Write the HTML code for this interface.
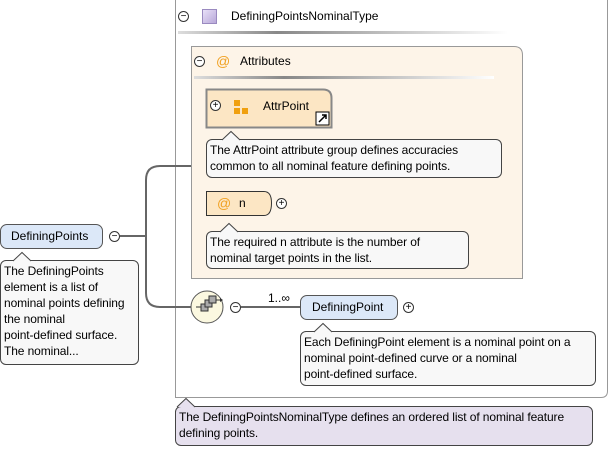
<!DOCTYPE html>
<html><head><meta charset="utf-8"><style>
body{margin:0;width:613px;height:451px;background:#fff;position:relative;overflow:hidden;font-family:"Liberation Sans",Arial,sans-serif;font-size:12px;color:#000}
div{position:absolute;box-sizing:border-box}
.tip{background:#f8f8f8;border:1px solid #444;border-radius:6px;padding:2px 3px;line-height:16px;white-space:nowrap;letter-spacing:-0.1px}
.pm{width:11px;height:11px;border:1px solid #333;border-radius:50%;font-size:10px;line-height:9px;text-align:center;background:#fff}
</style></head><body>
<svg width="613" height="451" style="position:absolute;left:0;top:0">
<defs><linearGradient id="g" x1="0" x2="1"><stop offset="0" stop-color="#ddd"/><stop offset="0.3" stop-color="#888"/><stop offset="1" stop-color="#fff"/></linearGradient></defs>
<path d="M175.5 -2 V397.5 H601 Q607.5 397.5 607.5 391 V-2" fill="none" stroke="#999" stroke-width="1"/>
<rect x="178" y="31" width="330" height="3" fill="url(#g)"/>
<path d="M191.5 46.5 H514 Q522.5 46.5 522.5 55 V278.5 H191.5 Z" fill="#fdf4e8" stroke="#999"/>
<rect x="194" y="76" width="300" height="3" fill="url(#g)"/>
<g stroke="#666" stroke-width="2" fill="none">
<path d="M120 236 H146"/>
<path d="M191 166 H160 Q146 166 146 180 V293 Q146 307 160 307 H191"/>
<path d="M241 307 H300"/>
</g>
<circle cx="207" cy="307" r="16" fill="#fbf8e0" stroke="#555"/>
<g fill="#aaa" stroke="#333" stroke-width="1"><rect x="201" y="304" width="7" height="7"/><rect x="205" y="300" width="7" height="7"/><rect x="209" y="296" width="7" height="7"/></g>
<path d="M196 307 H201 M216 300 H220" stroke="#333"/><path d="M220 298 l3 2 l-3 2z" fill="#333"/>
<path d="M206.5 89.5 H323 Q331.5 89.5 331.5 98 V127.5 H206.5 Z" fill="#fce6c4" stroke="#888" stroke-width="2"/>
<rect x="316" y="112" width="13" height="13" fill="#fff" stroke="#000"/>
<path d="M319 122 L326 115 M322 115 H326 V119" stroke="#000" stroke-width="1.5" fill="none"/>
<path d="M206.5 191.5 H264 Q271.5 191.5 271.5 203 Q271.5 215.5 264 215.5 H206.5 Z" fill="#fce6c4" stroke="#333"/>
</svg>
<div class="pm" style="left:178px;top:11px">−</div>
<div style="left:202px;top:9px;width:15px;height:15px;background:linear-gradient(135deg,#e8e0f8,#b8a8d8);border:1px solid #9a8ac0"></div>
<div style="left:231px;top:9px">DefiningPointsNominalType</div>
<div class="pm" style="left:194px;top:56px">−</div>
<div style="left:216px;top:53px;color:#f0a020;font-size:14px">@</div>
<div style="left:240px;top:54px">Attributes</div>
<div class="pm" style="left:210px;top:100px">+</div>
<div style="left:234px;top:100px;width:6px;height:6px;background:#f0a010"></div>
<div style="left:234px;top:108px;width:6px;height:6px;background:#f0a010"></div>
<div style="left:242px;top:108px;width:6px;height:6px;background:#f0a010"></div>
<div style="left:263px;top:99px">AttrPoint</div>
<div class="tip" style="left:206px;top:139px;width:296px;height:39px">The AttrPoint attribute group defines accuracies<br>common to all nominal feature defining points.</div>
<div style="left:217px;top:195px;color:#f0a020;font-size:14px">@</div>
<div style="left:239px;top:196px">n</div>
<div class="pm" style="left:276px;top:198px">+</div>
<div class="tip" style="left:206px;top:231px;width:263px;height:38px">The required n attribute is the number of<br>nominal target points in the list.</div>
<div style="left:0;top:224px;width:103px;height:25px;background:#dce8f8;border:1px solid #555;border-radius:7px;padding:4px 0 0 10px">DefiningPoints</div>
<div class="pm" style="left:109px;top:231px">−</div>
<div class="tip" style="left:0;top:260px;width:139px;height:105px">The DefiningPoints<br>element is a list of<br>nominal points defining<br>the nominal<br>point-defined surface.<br>The nominal...</div>
<div class="pm" style="left:230px;top:302px">−</div>
<div style="left:268px;top:291px">1..∞</div>
<div style="left:300px;top:295px;width:98px;height:25px;background:#dce8f8;border:1px solid #555;border-radius:7px;padding:4px 0 0 11px">DefiningPoint</div>
<div class="pm" style="left:403px;top:302px">+</div>
<div class="tip" style="left:300px;top:331px;width:296px;height:55px">Each DefiningPoint element is a nominal point on a<br>nominal point-defined curve or a nominal<br>point-defined surface.</div>
<div class="tip" style="left:175px;top:406px;width:418px;height:40px;background:#e6e0ee">The DefiningPointsNominalType defines an ordered list of nominal feature<br>defining points.</div>
<svg width="613" height="451" style="position:absolute;left:0;top:0">
<g stroke="#444" stroke-width="1">
<path d="M222 140 L231 131.5 L240 140" fill="#f8f8f8"/>
<path d="M220 232 L229 223.5 L238 232" fill="#f8f8f8"/>
<path d="M13 261 L22 252.5 L31 261" fill="#f8f8f8"/>
<path d="M314 332 L323 323.5 L332 332" fill="#f8f8f8"/>
<path d="M177 407 L186 398.5 L195 407" fill="#e6e0ee"/>
</g>
</svg>
</body></html>
